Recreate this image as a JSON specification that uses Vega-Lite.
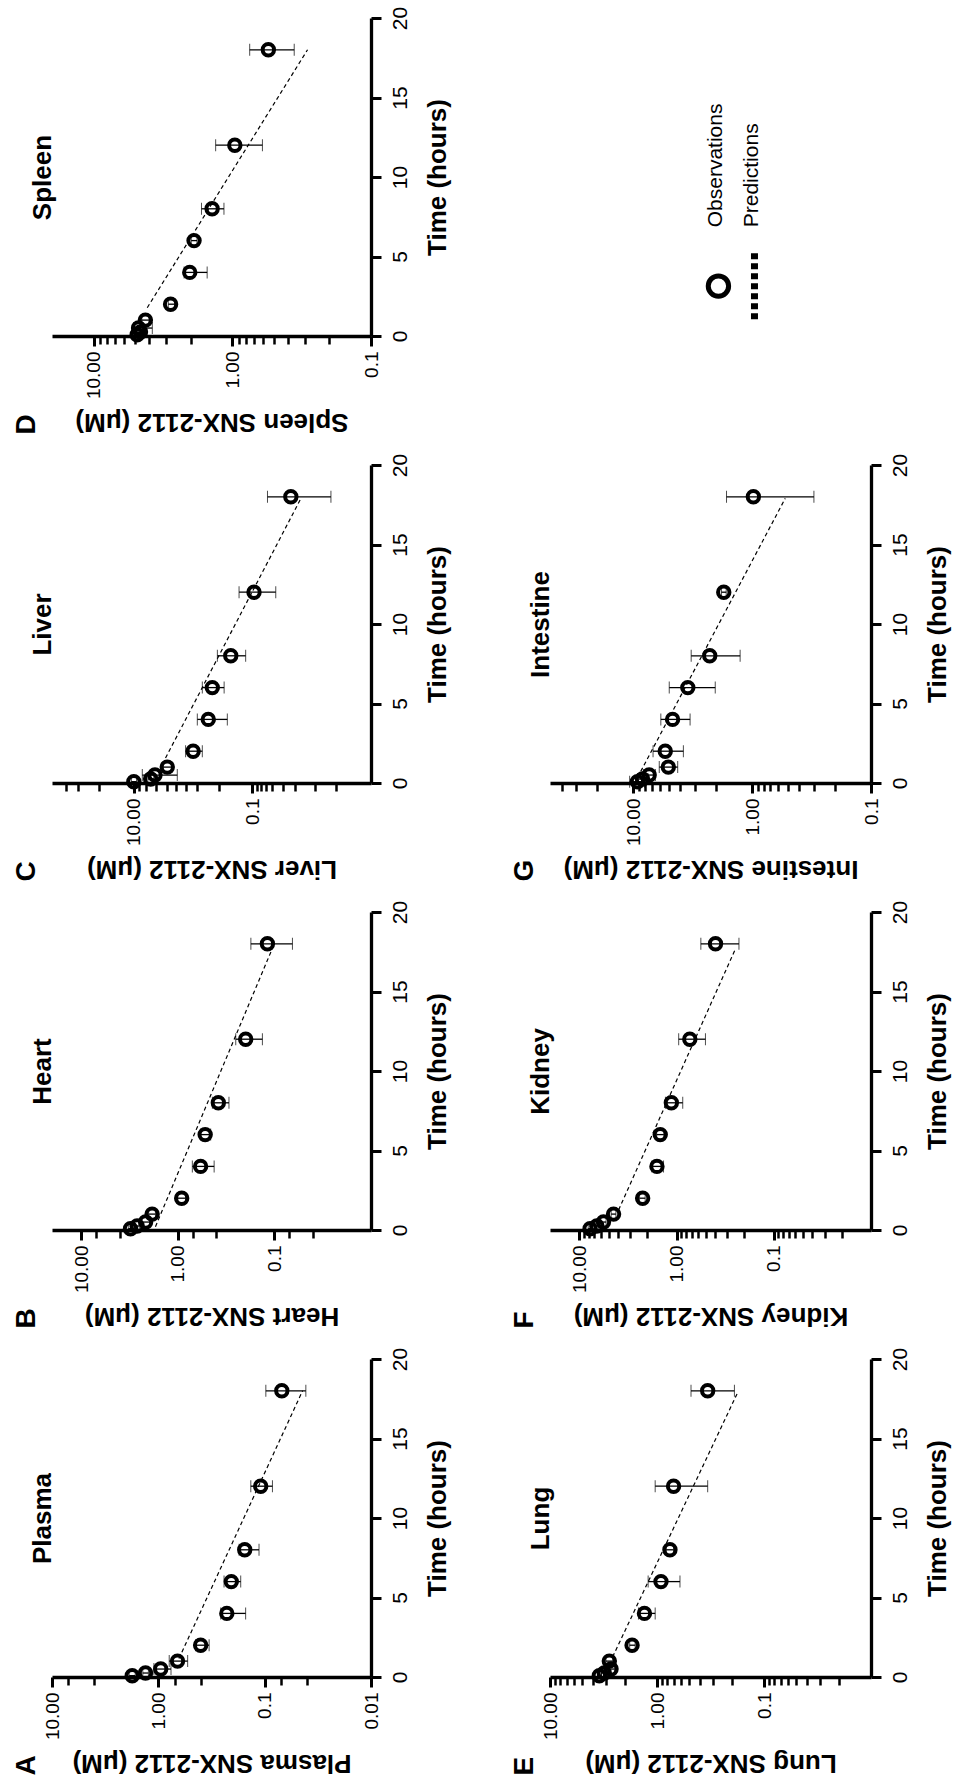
{
  "$schema": "https://vega.github.io/schema/vega-lite/v6.json",
  "padding": {"left": 13, "top": 6, "right": 3, "bottom": 3},
  "background": "white",
  "datasets": {
    "obs": [
      {"panel": "A", "t": 0.083, "c": 1.76, "lo": 1.65, "hi": 1.88},
      {"panel": "A", "t": 0.25, "c": 1.32, "lo": 1.24, "hi": 1.4},
      {"panel": "A", "t": 0.5, "c": 0.95, "lo": 0.76, "hi": 1.1},
      {"panel": "A", "t": 1, "c": 0.66, "lo": 0.53, "hi": 0.79},
      {"panel": "A", "t": 2, "c": 0.4, "lo": 0.333, "hi": 0.446},
      {"panel": "A", "t": 4, "c": 0.227, "lo": 0.151, "hi": 0.259},
      {"panel": "A", "t": 6, "c": 0.206, "lo": 0.168, "hi": 0.241},
      {"panel": "A", "t": 8, "c": 0.154, "lo": 0.113, "hi": 0.174},
      {"panel": "A", "t": 12, "c": 0.109, "lo": 0.0845, "hi": 0.135},
      {"panel": "A", "t": 18, "c": 0.069, "lo": 0.041, "hi": 0.0975},
      {"panel": "B", "t": 0.083, "c": 3.08, "lo": 2.9, "hi": 3.25},
      {"panel": "B", "t": 0.25, "c": 2.63, "lo": 2.5, "hi": 2.8},
      {"panel": "B", "t": 0.5, "c": 2.15, "lo": 1.95, "hi": 2.35},
      {"panel": "B", "t": 1, "c": 1.84, "lo": 1.7, "hi": 2.0},
      {"panel": "B", "t": 2, "c": 0.91, "lo": 0.83, "hi": 1.0},
      {"panel": "B", "t": 4, "c": 0.58, "lo": 0.42, "hi": 0.706},
      {"panel": "B", "t": 6, "c": 0.52, "lo": 0.456, "hi": 0.58},
      {"panel": "B", "t": 8, "c": 0.38, "lo": 0.295, "hi": 0.438},
      {"panel": "B", "t": 12, "c": 0.198, "lo": 0.133, "hi": 0.251},
      {"panel": "B", "t": 18, "c": 0.118, "lo": 0.065, "hi": 0.175},
      {"panel": "C", "t": 0.083, "c": 10.0, "lo": 9.0, "hi": 11.0},
      {"panel": "C", "t": 0.25, "c": 5.2, "lo": 4.6, "hi": 5.8},
      {"panel": "C", "t": 0.5, "c": 4.4, "lo": 1.85, "hi": 7.2},
      {"panel": "C", "t": 1, "c": 2.73, "lo": 2.3, "hi": 3.2},
      {"panel": "C", "t": 2, "c": 1.0, "lo": 0.7, "hi": 1.34},
      {"panel": "C", "t": 4, "c": 0.555, "lo": 0.265, "hi": 0.85},
      {"panel": "C", "t": 6, "c": 0.475, "lo": 0.3, "hi": 0.7},
      {"panel": "C", "t": 8, "c": 0.232, "lo": 0.13, "hi": 0.39},
      {"panel": "C", "t": 12, "c": 0.094, "lo": 0.0404, "hi": 0.168},
      {"panel": "C", "t": 18, "c": 0.0225, "lo": 0.00474, "hi": 0.0557},
      {"panel": "D", "t": 0.083, "c": 4.86, "lo": 4.6, "hi": 5.1},
      {"panel": "D", "t": 0.25, "c": 4.6, "lo": 4.3, "hi": 4.9},
      {"panel": "D", "t": 0.5, "c": 4.75, "lo": 3.78, "hi": 5.14},
      {"panel": "D", "t": 1, "c": 4.24, "lo": 4.0, "hi": 4.5},
      {"panel": "D", "t": 2, "c": 2.79, "lo": 2.6, "hi": 2.9},
      {"panel": "D", "t": 4, "c": 2.03, "lo": 1.52, "hi": 2.23},
      {"panel": "D", "t": 6, "c": 1.89, "lo": 1.8, "hi": 1.98},
      {"panel": "D", "t": 8, "c": 1.4, "lo": 1.15, "hi": 1.67},
      {"panel": "D", "t": 12, "c": 0.96, "lo": 0.607, "hi": 1.32},
      {"panel": "D", "t": 18, "c": 0.55, "lo": 0.358, "hi": 0.75},
      {"panel": "E", "t": 0.083, "c": 3.46, "lo": 3.3, "hi": 3.6},
      {"panel": "E", "t": 0.25, "c": 3.11, "lo": 2.95, "hi": 3.3},
      {"panel": "E", "t": 0.5, "c": 2.69, "lo": 2.5, "hi": 2.9},
      {"panel": "E", "t": 1, "c": 2.79, "lo": 2.6, "hi": 3.0},
      {"panel": "E", "t": 2, "c": 1.71, "lo": 1.6, "hi": 1.8},
      {"panel": "E", "t": 4, "c": 1.31, "lo": 1.04, "hi": 1.49},
      {"panel": "E", "t": 6, "c": 0.918, "lo": 0.61, "hi": 1.21},
      {"panel": "E", "t": 8, "c": 0.757, "lo": 0.7, "hi": 0.82},
      {"panel": "E", "t": 12, "c": 0.7, "lo": 0.336, "hi": 1.04},
      {"panel": "E", "t": 18, "c": 0.336, "lo": 0.189, "hi": 0.481},
      {"panel": "F", "t": 0.083, "c": 7.74, "lo": 7.4, "hi": 8.1},
      {"panel": "F", "t": 0.25, "c": 6.6, "lo": 6.3, "hi": 6.9},
      {"panel": "F", "t": 0.5, "c": 5.64, "lo": 5.3, "hi": 6.0},
      {"panel": "F", "t": 1, "c": 4.44, "lo": 4.2, "hi": 4.7},
      {"panel": "F", "t": 2, "c": 2.23, "lo": 2.1, "hi": 2.4},
      {"panel": "F", "t": 4, "c": 1.59, "lo": 1.36, "hi": 1.79},
      {"panel": "F", "t": 6, "c": 1.47, "lo": 1.35, "hi": 1.6},
      {"panel": "F", "t": 8, "c": 1.13, "lo": 0.863, "hi": 1.3},
      {"panel": "F", "t": 12, "c": 0.73, "lo": 0.504, "hi": 0.95},
      {"panel": "F", "t": 18, "c": 0.397, "lo": 0.228, "hi": 0.562},
      {"panel": "G", "t": 0.083, "c": 9.2, "lo": 8.0, "hi": 10.7},
      {"panel": "G", "t": 0.25, "c": 8.35, "lo": 7.5, "hi": 9.2},
      {"panel": "G", "t": 0.5, "c": 7.33, "lo": 6.5, "hi": 8.2},
      {"panel": "G", "t": 1, "c": 5.06, "lo": 4.22, "hi": 6.03},
      {"panel": "G", "t": 2, "c": 5.37, "lo": 3.78, "hi": 6.8},
      {"panel": "G", "t": 4, "c": 4.66, "lo": 3.32, "hi": 5.85},
      {"panel": "G", "t": 6, "c": 3.47, "lo": 2.04, "hi": 4.97},
      {"panel": "G", "t": 8, "c": 2.27, "lo": 1.26, "hi": 3.25},
      {"panel": "G", "t": 12, "c": 1.73, "lo": 1.65, "hi": 1.81},
      {"panel": "G", "t": 18, "c": 0.975, "lo": 0.302, "hi": 1.64}
    ],
    "pred": [
      {"panel": "A", "t": 1.16, "c": 0.64},
      {"panel": "A", "t": 18.0, "c": 0.044},
      {"panel": "B", "t": 0.21, "c": 1.7},
      {"panel": "B", "t": 17.7, "c": 0.105},
      {"panel": "C", "t": 1.57, "c": 2.92},
      {"panel": "C", "t": 17.9, "c": 0.0152},
      {"panel": "D", "t": 1.78, "c": 4.11},
      {"panel": "D", "t": 18.0, "c": 0.287},
      {"panel": "E", "t": 1.26, "c": 2.6},
      {"panel": "E", "t": 17.9, "c": 0.176},
      {"panel": "F", "t": 1.26, "c": 3.94},
      {"panel": "F", "t": 17.7, "c": 0.247},
      {"panel": "G", "t": 0.73, "c": 8.63},
      {"panel": "G", "t": 17.9, "c": 0.526}
    ]
  },
  "columns": 2,
  "spacing": {"row": 18, "column": 61},
  "concat": [
    {
      "title": {"text": "D"},
      "width": 319, "height": 318,
      "resolve": {"axis": {"x": "independent", "y": "independent"}},
      "layer": [
        {"data": {"name": "pred"}, "transform": [{"filter": "datum.panel === 'D'"}],
         "mark": {"type": "line", "color": "black", "strokeWidth": 1.2, "strokeDash": [4, 3]},
         "encoding": {
           "x": {"field": "c", "type": "quantitative", "scale": {"type": "log", "domain": [0.1, 20], "reverse": true, "nice": false}, "axis": {"orient": "bottom", "values": [10, 1, 0.1]}, "title": "Spleen SNX-2112 (μM)"},
           "y": {"field": "t", "type": "quantitative", "scale": {"domain": [0, 20], "nice": false, "zero": false}, "axis": {"orient": "right", "values": [0, 5, 10, 15, 20]}, "title": "Time (hours)"}}},
        {"data": {"name": "pred"}, "transform": [{"filter": "datum.panel === 'D'"}],
         "mark": {"type": "point", "opacity": 0},
         "encoding": {
           "x": {"field": "c", "type": "quantitative", "axis": {"orient": "bottom", "values": [9, 8, 7, 6, 5, 4, 3, 2, 0.9, 0.8, 0.7, 0.6, 0.5, 0.4, 0.3, 0.2], "labels": false, "domain": false, "title": null, "tickSize": 8, "tickWidth": 2.5}},
           "y": {"field": "t", "type": "quantitative", "axis": null}}},
        {"data": {"name": "obs"}, "transform": [{"filter": "datum.panel === 'D'"}],
         "mark": {"type": "errorbar", "ticks": {"size": 12, "strokeWidth": 1.3, "color": "black"}, "rule": {"strokeWidth": 1.3, "color": "black"}},
         "encoding": {"x": {"field": "lo", "type": "quantitative", "axis": null}, "x2": {"field": "hi"}, "y": {"field": "t", "type": "quantitative", "axis": null}}},
        {"data": {"name": "obs"}, "transform": [{"filter": "datum.panel === 'D'"}],
         "mark": {"type": "point", "shape": "circle", "filled": false, "size": 130, "strokeWidth": 4, "color": "black", "opacity": 1},
         "encoding": {"x": {"field": "c", "type": "quantitative", "axis": null}, "y": {"field": "t", "type": "quantitative", "axis": {"orient": "left"}, "title": "Spleen"}}}
      ]
    },
    {
      "width": 319, "height": 318,
      "data": {"values": [{"k": "legend"}]},
      "layer": [
        {"mark": {"type": "point", "shape": "circle", "filled": false, "size": 415, "strokeWidth": 5, "color": "black", "opacity": 1},
         "encoding": {"x": {"datum": 0.528, "type": "quantitative", "scale": {"domain": [0, 1], "nice": false, "zero": false}, "axis": null},
                      "y": {"datum": 0.157, "type": "quantitative", "scale": {"domain": [0, 1], "nice": false, "zero": false}, "axis": null}}},
        {"mark": {"type": "rule", "strokeWidth": 7, "strokeDash": [6, 4], "color": "black"},
         "encoding": {"x": {"datum": 0.641, "type": "quantitative"}, "y": {"datum": 0.053, "type": "quantitative"}, "y2": {"datum": 0.263}}},
        {"mark": {"type": "text", "angle": 270, "align": "left", "baseline": "middle", "fontSize": 21, "font": "Liberation Sans", "color": "black"},
         "encoding": {"x": {"datum": 0.52, "type": "quantitative"}, "y": {"datum": 0.342, "type": "quantitative"}, "text": {"value": "Observations"}}},
        {"mark": {"type": "text", "angle": 270, "align": "left", "baseline": "middle", "fontSize": 21, "font": "Liberation Sans", "color": "black"},
         "encoding": {"x": {"datum": 0.632, "type": "quantitative"}, "y": {"datum": 0.342, "type": "quantitative"}, "text": {"value": "Predictions"}}}
      ]
    },
    {
      "title": {"text": "C"},
      "width": 319, "height": 318,
      "resolve": {"axis": {"x": "independent", "y": "independent"}},
      "layer": [
        {"data": {"name": "pred"}, "transform": [{"filter": "datum.panel === 'C'"}],
         "mark": {"type": "line", "color": "black", "strokeWidth": 1.2, "strokeDash": [4, 3]},
         "encoding": {
           "x": {"field": "c", "type": "quantitative", "scale": {"type": "log", "domain": [0.001, 240], "reverse": true, "nice": false}, "axis": {"orient": "bottom", "values": [10, 0.1]}, "title": "Liver SNX-2112 (μM)"},
           "y": {"field": "t", "type": "quantitative", "scale": {"domain": [0, 20], "nice": false, "zero": false}, "axis": {"orient": "right", "values": [0, 5, 10, 15, 20]}, "title": "Time (hours)"}}},
        {"data": {"name": "pred"}, "transform": [{"filter": "datum.panel === 'C'"}],
         "mark": {"type": "point", "opacity": 0},
         "encoding": {
           "x": {"field": "c", "type": "quantitative", "axis": {"orient": "bottom", "values": [142, 86, 39, 8.2, 6.3, 4.2, 2.76, 1.94, 1.32, 0.85, 0.36, 0.085, 0.071, 0.058, 0.046, 0.031, 0.019, 0.0089, 0.0039], "labels": false, "domain": false, "title": null, "tickSize": 8, "tickWidth": 2.5}},
           "y": {"field": "t", "type": "quantitative", "axis": null}}},
        {"data": {"name": "obs"}, "transform": [{"filter": "datum.panel === 'C'"}],
         "mark": {"type": "errorbar", "ticks": {"size": 12, "strokeWidth": 1.3, "color": "black"}, "rule": {"strokeWidth": 1.3, "color": "black"}},
         "encoding": {"x": {"field": "lo", "type": "quantitative", "axis": null}, "x2": {"field": "hi"}, "y": {"field": "t", "type": "quantitative", "axis": null}}},
        {"data": {"name": "obs"}, "transform": [{"filter": "datum.panel === 'C'"}],
         "mark": {"type": "point", "shape": "circle", "filled": false, "size": 130, "strokeWidth": 4, "color": "black", "opacity": 1},
         "encoding": {"x": {"field": "c", "type": "quantitative", "axis": null}, "y": {"field": "t", "type": "quantitative", "axis": {"orient": "left"}, "title": "Liver"}}}
      ]
    },
    {
      "title": {"text": "G"},
      "width": 321, "height": 318,
      "resolve": {"axis": {"x": "independent", "y": "independent"}},
      "layer": [
        {"data": {"name": "pred"}, "transform": [{"filter": "datum.panel === 'G'"}],
         "mark": {"type": "line", "color": "black", "strokeWidth": 1.2, "strokeDash": [4, 3]},
         "encoding": {
           "x": {"field": "c", "type": "quantitative", "scale": {"type": "log", "domain": [0.1, 50], "reverse": true, "nice": false}, "axis": {"orient": "bottom", "values": [10, 1, 0.1]}, "title": "Intestine SNX-2112 (μM)"},
           "y": {"field": "t", "type": "quantitative", "scale": {"domain": [0, 20], "nice": false, "zero": false}, "axis": {"orient": "right", "values": [0, 5, 10, 15, 20]}, "title": "Time (hours)"}}},
        {"data": {"name": "pred"}, "transform": [{"filter": "datum.panel === 'G'"}],
         "mark": {"type": "point", "opacity": 0},
         "encoding": {
           "x": {"field": "c", "type": "quantitative", "axis": {"orient": "bottom", "values": [40, 30, 20, 9, 8, 7, 6, 5, 4, 3, 2, 0.9, 0.8, 0.7, 0.6, 0.5, 0.4, 0.3, 0.2], "labels": false, "domain": false, "title": null, "tickSize": 8, "tickWidth": 2.5}},
           "y": {"field": "t", "type": "quantitative", "axis": null}}},
        {"data": {"name": "obs"}, "transform": [{"filter": "datum.panel === 'G'"}],
         "mark": {"type": "errorbar", "ticks": {"size": 12, "strokeWidth": 1.3, "color": "black"}, "rule": {"strokeWidth": 1.3, "color": "black"}},
         "encoding": {"x": {"field": "lo", "type": "quantitative", "axis": null}, "x2": {"field": "hi"}, "y": {"field": "t", "type": "quantitative", "axis": null}}},
        {"data": {"name": "obs"}, "transform": [{"filter": "datum.panel === 'G'"}],
         "mark": {"type": "point", "shape": "circle", "filled": false, "size": 130, "strokeWidth": 4, "color": "black", "opacity": 1},
         "encoding": {"x": {"field": "c", "type": "quantitative", "axis": null}, "y": {"field": "t", "type": "quantitative", "axis": {"orient": "left"}, "title": "Intestine"}}}
      ]
    },
    {
      "title": {"text": "B"},
      "width": 319, "height": 318,
      "resolve": {"axis": {"x": "independent", "y": "independent"}},
      "layer": [
        {"data": {"name": "pred"}, "transform": [{"filter": "datum.panel === 'B'"}],
         "mark": {"type": "line", "color": "black", "strokeWidth": 1.2, "strokeDash": [4, 3]},
         "encoding": {
           "x": {"field": "c", "type": "quantitative", "scale": {"type": "log", "domain": [0.01, 20], "reverse": true, "nice": false}, "axis": {"orient": "bottom", "values": [10, 1, 0.1]}, "title": "Heart SNX-2112 (μM)"},
           "y": {"field": "t", "type": "quantitative", "scale": {"domain": [0, 20], "nice": false, "zero": false}, "axis": {"orient": "right", "values": [0, 5, 10, 15, 20]}, "title": "Time (hours)"}}},
        {"data": {"name": "pred"}, "transform": [{"filter": "datum.panel === 'B'"}],
         "mark": {"type": "point", "opacity": 0},
         "encoding": {
           "x": {"field": "c", "type": "quantitative", "axis": {"orient": "bottom", "values": [7, 4, 0.7, 0.4, 0.07, 0.04], "labels": false, "domain": false, "title": null, "tickSize": 8, "tickWidth": 2.5}},
           "y": {"field": "t", "type": "quantitative", "axis": null}}},
        {"data": {"name": "obs"}, "transform": [{"filter": "datum.panel === 'B'"}],
         "mark": {"type": "errorbar", "ticks": {"size": 12, "strokeWidth": 1.3, "color": "black"}, "rule": {"strokeWidth": 1.3, "color": "black"}},
         "encoding": {"x": {"field": "lo", "type": "quantitative", "axis": null}, "x2": {"field": "hi"}, "y": {"field": "t", "type": "quantitative", "axis": null}}},
        {"data": {"name": "obs"}, "transform": [{"filter": "datum.panel === 'B'"}],
         "mark": {"type": "point", "shape": "circle", "filled": false, "size": 130, "strokeWidth": 4, "color": "black", "opacity": 1},
         "encoding": {"x": {"field": "c", "type": "quantitative", "axis": null}, "y": {"field": "t", "type": "quantitative", "axis": {"orient": "left"}, "title": "Heart"}}}
      ]
    },
    {
      "title": {"text": "F"},
      "width": 321, "height": 318,
      "resolve": {"axis": {"x": "independent", "y": "independent"}},
      "layer": [
        {"data": {"name": "pred"}, "transform": [{"filter": "datum.panel === 'F'"}],
         "mark": {"type": "line", "color": "black", "strokeWidth": 1.2, "strokeDash": [4, 3]},
         "encoding": {
           "x": {"field": "c", "type": "quantitative", "scale": {"type": "log", "domain": [0.01, 20], "reverse": true, "nice": false}, "axis": {"orient": "bottom", "values": [10, 1, 0.1]}, "title": "Kidney SNX-2112 (μM)"},
           "y": {"field": "t", "type": "quantitative", "scale": {"domain": [0, 20], "nice": false, "zero": false}, "axis": {"orient": "right", "values": [0, 5, 10, 15, 20]}, "title": "Time (hours)"}}},
        {"data": {"name": "pred"}, "transform": [{"filter": "datum.panel === 'F'"}],
         "mark": {"type": "point", "opacity": 0},
         "encoding": {
           "x": {"field": "c", "type": "quantitative", "axis": {"orient": "bottom", "values": [9, 8, 7, 6, 5, 4, 3, 2, 0.9, 0.8, 0.7, 0.6, 0.5, 0.4, 0.3, 0.2, 0.09, 0.08, 0.07, 0.06, 0.05, 0.04, 0.03, 0.02], "labels": false, "domain": false, "title": null, "tickSize": 8, "tickWidth": 2.5}},
           "y": {"field": "t", "type": "quantitative", "axis": null}}},
        {"data": {"name": "obs"}, "transform": [{"filter": "datum.panel === 'F'"}],
         "mark": {"type": "errorbar", "ticks": {"size": 12, "strokeWidth": 1.3, "color": "black"}, "rule": {"strokeWidth": 1.3, "color": "black"}},
         "encoding": {"x": {"field": "lo", "type": "quantitative", "axis": null}, "x2": {"field": "hi"}, "y": {"field": "t", "type": "quantitative", "axis": null}}},
        {"data": {"name": "obs"}, "transform": [{"filter": "datum.panel === 'F'"}],
         "mark": {"type": "point", "shape": "circle", "filled": false, "size": 130, "strokeWidth": 4, "color": "black", "opacity": 1},
         "encoding": {"x": {"field": "c", "type": "quantitative", "axis": null}, "y": {"field": "t", "type": "quantitative", "axis": {"orient": "left"}, "title": "Kidney"}}}
      ]
    },
    {
      "title": {"text": "A"},
      "width": 319, "height": 318,
      "resolve": {"axis": {"x": "independent", "y": "independent"}},
      "layer": [
        {"data": {"name": "pred"}, "transform": [{"filter": "datum.panel === 'A'"}],
         "mark": {"type": "line", "color": "black", "strokeWidth": 1.2, "strokeDash": [4, 3]},
         "encoding": {
           "x": {"field": "c", "type": "quantitative", "scale": {"type": "log", "domain": [0.01, 10], "reverse": true, "nice": false}, "axis": {"orient": "bottom", "values": [10, 1, 0.1, 0.01]}, "title": "Plasma SNX-2112 (μM)"},
           "y": {"field": "t", "type": "quantitative", "scale": {"domain": [0, 20], "nice": false, "zero": false}, "axis": {"orient": "right", "values": [0, 5, 10, 15, 20]}, "title": "Time (hours)"}}},
        {"data": {"name": "pred"}, "transform": [{"filter": "datum.panel === 'A'"}],
         "mark": {"type": "point", "opacity": 0},
         "encoding": {
           "x": {"field": "c", "type": "quantitative", "axis": {"orient": "bottom", "values": [7, 4, 0.7, 0.4, 0.07, 0.04], "labels": false, "domain": false, "title": null, "tickSize": 8, "tickWidth": 2.5}},
           "y": {"field": "t", "type": "quantitative", "axis": null}}},
        {"data": {"name": "obs"}, "transform": [{"filter": "datum.panel === 'A'"}],
         "mark": {"type": "errorbar", "ticks": {"size": 12, "strokeWidth": 1.3, "color": "black"}, "rule": {"strokeWidth": 1.3, "color": "black"}},
         "encoding": {"x": {"field": "lo", "type": "quantitative", "axis": null}, "x2": {"field": "hi"}, "y": {"field": "t", "type": "quantitative", "axis": null}}},
        {"data": {"name": "obs"}, "transform": [{"filter": "datum.panel === 'A'"}],
         "mark": {"type": "point", "shape": "circle", "filled": false, "size": 130, "strokeWidth": 4, "color": "black", "opacity": 1},
         "encoding": {"x": {"field": "c", "type": "quantitative", "axis": null}, "y": {"field": "t", "type": "quantitative", "axis": {"orient": "left"}, "title": "Plasma"}}}
      ]
    },
    {
      "title": {"text": "E"},
      "width": 321, "height": 318,
      "resolve": {"axis": {"x": "independent", "y": "independent"}},
      "layer": [
        {"data": {"name": "pred"}, "transform": [{"filter": "datum.panel === 'E'"}],
         "mark": {"type": "line", "color": "black", "strokeWidth": 1.2, "strokeDash": [4, 3]},
         "encoding": {
           "x": {"field": "c", "type": "quantitative", "scale": {"type": "log", "domain": [0.01, 10], "reverse": true, "nice": false}, "axis": {"orient": "bottom", "values": [10, 1, 0.1]}, "title": "Lung SNX-2112 (μM)"},
           "y": {"field": "t", "type": "quantitative", "scale": {"domain": [0, 20], "nice": false, "zero": false}, "axis": {"orient": "right", "values": [0, 5, 10, 15, 20]}, "title": "Time (hours)"}}},
        {"data": {"name": "pred"}, "transform": [{"filter": "datum.panel === 'E'"}],
         "mark": {"type": "point", "opacity": 0},
         "encoding": {
           "x": {"field": "c", "type": "quantitative", "axis": {"orient": "bottom", "values": [9, 8, 7, 6, 5, 4, 3, 2, 0.9, 0.8, 0.7, 0.6, 0.5, 0.4, 0.3, 0.2, 0.09, 0.08, 0.07, 0.06, 0.05, 0.04, 0.03, 0.02], "labels": false, "domain": false, "title": null, "tickSize": 8, "tickWidth": 2.5}},
           "y": {"field": "t", "type": "quantitative", "axis": null}}},
        {"data": {"name": "obs"}, "transform": [{"filter": "datum.panel === 'E'"}],
         "mark": {"type": "errorbar", "ticks": {"size": 12, "strokeWidth": 1.3, "color": "black"}, "rule": {"strokeWidth": 1.3, "color": "black"}},
         "encoding": {"x": {"field": "lo", "type": "quantitative", "axis": null}, "x2": {"field": "hi"}, "y": {"field": "t", "type": "quantitative", "axis": null}}},
        {"data": {"name": "obs"}, "transform": [{"filter": "datum.panel === 'E'"}],
         "mark": {"type": "point", "shape": "circle", "filled": false, "size": 130, "strokeWidth": 4, "color": "black", "opacity": 1},
         "encoding": {"x": {"field": "c", "type": "quantitative", "axis": null}, "y": {"field": "t", "type": "quantitative", "axis": {"orient": "left"}, "title": "Lung"}}}
      ]
    }
  ],
  "config": {
    "view": {"stroke": null},
    "font": "Liberation Sans",
    "title": {"orient": "left", "anchor": "start", "fontSize": 28, "fontWeight": "bold", "font": "Liberation Sans", "color": "black", "offset": -12},
    "axis": {"grid": false, "domainColor": "black", "domainWidth": 3.3, "tickColor": "black", "tickWidth": 3, "tickSize": 10, "labelColor": "black", "labelFont": "Liberation Sans", "labelFontSize": 19, "titleFont": "Liberation Sans", "titleFontSize": 26, "titleFontWeight": "bold", "titleColor": "black", "labelFlush": false, "labelOverlap": false},
    "axisBottom": {"labelAngle": -90, "labelAlign": "right", "labelBaseline": "middle", "labelPadding": 5, "titleAngle": 180, "titleBaseline": "bottom", "titlePadding": 10, "labelExpr": "datum.value >= 1 ? format(datum.value, '.2f') : toString(datum.value)"},
    "axisRight": {"labelAngle": -90, "labelAlign": "center", "labelBaseline": "top", "labelPadding": 8, "labelFontSize": 21, "titleAngle": -90, "titleBaseline": "top", "titlePadding": 14},
    "axisLeft": {"labels": false, "ticks": false, "domain": false, "minExtent": 0, "maxExtent": 0, "titlePadding": -3, "titleAngle": -90, "titleBaseline": "bottom"}
  }
}
